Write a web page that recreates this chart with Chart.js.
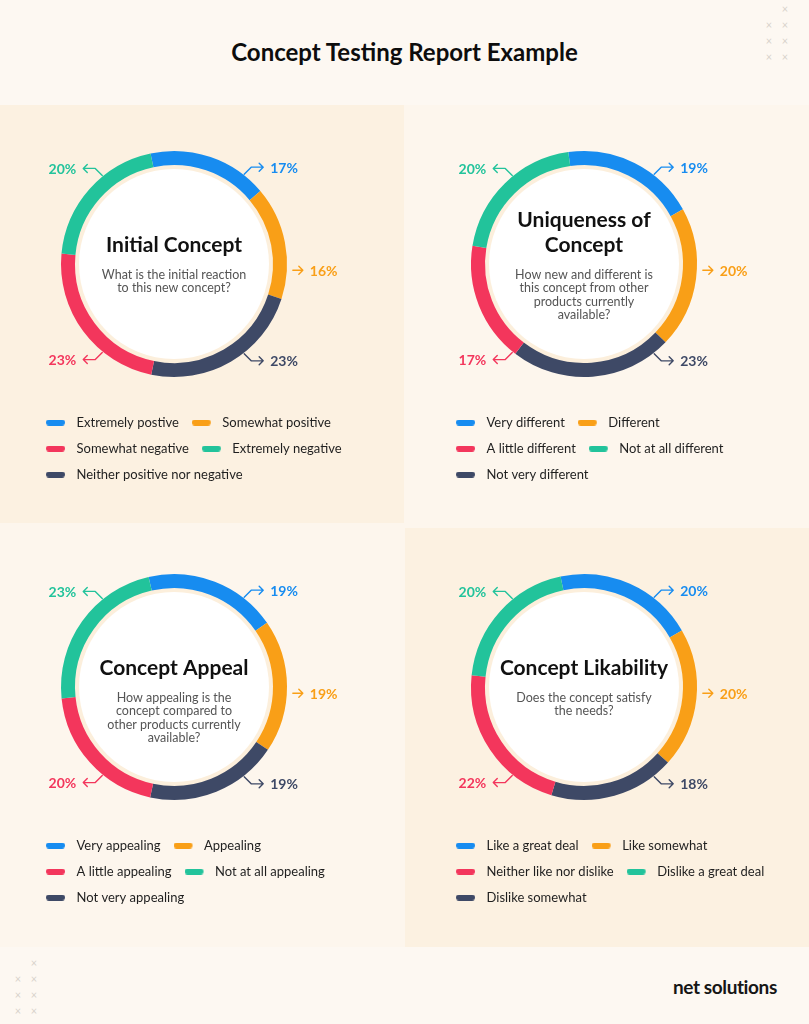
<!DOCTYPE html>
<html>
<head>
<meta charset="utf-8">
<title>Concept Testing Report Example</title>
<script src="https://cdn.jsdelivr.net/npm/chart.js@4.4.1/dist/chart.umd.min.js"></script>
<style>
  html, body { margin: 0; padding: 0; }
  body {
    width: 809px; height: 1024px; position: relative; overflow: hidden;
    background: #fdf8f2; font-family: Lato, sans-serif;
  }
  h1 {
    position: absolute; left: 0; top: 36px; width: 809px; margin: 0;
    text-align: center; font-size: 24px; line-height: 32px; font-weight: 700; color: #0d0d0d;
  }
  .panel { position: absolute; }
  .peach { background: #fcf1e1; }
  .light { background: #fdf6ed; }
  canvas { position: absolute; }
  .mark { position: absolute; width: 10px; margin-left: -5px; text-align: center; font-size: 11px; line-height: 10px; color: #d8d2cb; }
  .logo { position: absolute; left: 673px; top: 975px; font-size: 19px; font-weight: 700; color: #161616; letter-spacing: -0.4px; }
</style>
</head>
<body>
<h1>Concept Testing Report Example</h1>

<div class="panel peach" style="left:0;top:105px;width:404px;height:418px"></div>
<div class="panel light" style="left:404px;top:105px;width:405px;height:423px"></div>
<div class="panel light" style="left:0;top:523px;width:405px;height:424px"></div>
<div class="panel peach" style="left:405px;top:528px;width:404px;height:419px"></div>

<canvas id="initial" width="385" height="418" style="left:0;top:105px"></canvas>
<canvas id="unique" width="385" height="418" style="left:410px;top:105px"></canvas>
<canvas id="appeal" width="385" height="418" style="left:0;top:528px"></canvas>
<canvas id="likable" width="385" height="418" style="left:410px;top:528px"></canvas>

<span class="mark" style="left:785px;top:4px">×</span>
<span class="mark" style="left:769px;top:20px">×</span><span class="mark" style="left:785px;top:20px">×</span>
<span class="mark" style="left:769px;top:36px">×</span><span class="mark" style="left:785px;top:36px">×</span>
<span class="mark" style="left:769px;top:52px">×</span><span class="mark" style="left:785px;top:52px">×</span>

<span class="mark" style="left:34px;top:958px">×</span>
<span class="mark" style="left:18px;top:974px">×</span><span class="mark" style="left:34px;top:974px">×</span>
<span class="mark" style="left:18px;top:990px">×</span><span class="mark" style="left:34px;top:990px">×</span>
<span class="mark" style="left:18px;top:1006px">×</span><span class="mark" style="left:34px;top:1006px">×</span>

<div class="logo">net solutions</div>

<script>
// ring order, clockwise from the top: blue, orange, navy, red, green
const ringColors = ['#178cf0', '#f99f17', '#3e4966', '#f3365c', '#22c39b']
// legend lists them as blue, orange, red, green, navy
const legendOrder = [0, 1, 3, 4, 2]

const initialLabels = ['Extremely postive', 'Somewhat positive', 'Neither positive nor negative', 'Somewhat negative', 'Extremely negative']
const initialValues = [17, 16, 23, 23, 20]

const uniqueLabels = ['Very different', 'Different', 'Not very different', 'A little different', 'Not at all different']
const uniqueValues = [19, 20, 23, 17, 20]

const appealLabels = ['Very appealing', 'Appealing', 'Not very appealing', 'A little appealing', 'Not at all appealing']
const appealValues = [19, 19, 19, 20, 23]

const likeLabels = ['Like a great deal', 'Like somewhat', 'Dislike somewhat', 'Neither like nor dislike', 'Dislike a great deal']
const likeValues = [20, 20, 18, 22, 20]

// where the % callouts sit around the ring (degrees from the top)
const calloutAngles = [38, 93, 142, 219, 321]

Chart.defaults.font.family = 'Lato'

// rounded legend markers
function pill(color) {
  const c = document.createElement('canvas')
  c.width = 24
  c.height = 6
  const g = c.getContext('2d')
  g.fillStyle = color
  g.beginPath()
  g.roundRect(0, 0, 19, 6, 3)
  g.fill()
  return c
}
const pills = ringColors.map(pill)

// put the ring at a fixed spot, legend keeps its own place
const ringBox = {
  id: 'ringBox',
  afterLayout(chart, args, opts) {
    chart.chartArea = {
      left: opts.x - opts.r, right: opts.x + opts.r,
      top: opts.y - opts.r, bottom: opts.y + opts.r,
      width: opts.r * 2, height: opts.r * 2
    }
  }
}

const ringText = {
  id: 'ringText',
  beforeDatasetsDraw(chart) {
    const {x, y, innerRadius} = chart.getDatasetMeta(0).data[0]
    const ctx = chart.ctx
    ctx.save()
    ctx.fillStyle = '#fcefdc'
    ctx.beginPath()
    ctx.arc(x, y, innerRadius + 1, 0, Math.PI * 2)
    ctx.fill()
    ctx.fillStyle = '#ffffff'
    ctx.beginPath()
    ctx.arc(x, y, innerRadius - 4, 0, Math.PI * 2)
    ctx.fill()
    ctx.restore()
  },
  afterDatasetsDraw(chart, args, opts) {
    const {x, y, outerRadius} = chart.getDatasetMeta(0).data[0]
    const values = chart.data.datasets[0].data
    const ctx = chart.ctx
    ctx.save()
    ctx.textAlign = 'center'
    ctx.textBaseline = 'middle'

    ctx.fillStyle = '#111111'
    ctx.font = '700 21px Lato'
    const n = opts.title.length
    opts.title.forEach((line, k) => ctx.fillText(line, x, y - 19 - (n - 1 - k) * 25))

    ctx.fillStyle = '#555555'
    ctx.font = '12.5px Lato'
    opts.question.forEach((line, k) => ctx.fillText(line, x, y + 11 + k * 13.3))

    // callouts
    ctx.lineWidth = 1.4
    ctx.lineCap = 'round'
    ctx.lineJoin = 'round'
    ctx.font = '700 14px Lato'
    calloutAngles.forEach((deg, i) => {
      const a = deg * Math.PI / 180
      const sx = Math.sin(a) >= 0 ? 1 : -1
      const straight = Math.abs(Math.cos(a)) < 0.2
      const r = outerRadius + (straight ? 6 : 1)
      const x0 = x + r * Math.sin(a)
      const y0 = y - r * Math.cos(a)
      let bx = x0, by = y0
      if (!straight) {
        bx = x0 + 7 * sx
        by = y0 + (Math.cos(a) > 0 ? -7 : 7)
      }
      const tx = bx + (straight ? 10 : 12) * sx
      ctx.strokeStyle = ringColors[i]
      ctx.beginPath()
      ctx.moveTo(x0, y0)
      ctx.lineTo(bx, by)
      ctx.lineTo(tx, by)
      ctx.moveTo(tx - 4 * sx, by - 4)
      ctx.lineTo(tx, by)
      ctx.lineTo(tx - 4 * sx, by + 4)
      ctx.stroke()
      ctx.fillStyle = ringColors[i]
      ctx.textAlign = sx > 0 ? 'left' : 'right'
      ctx.fillText(values[i] + '%', tx + 7 * sx, by + 1)
    })
    ctx.restore()
  }
}

function makeRing(id, labels, values, rotation, title, question) {
  return new Chart(document.getElementById(id), {
    type: 'doughnut',
    data: {
      labels: labels,
      datasets: [{
        data: values,
        backgroundColor: ringColors,
        borderWidth: 0,
        hoverOffset: 0
      }]
    },
    options: {
      responsive: false,
      animation: false,
      rotation: rotation,
      cutout: '87.6%',
      layout: {padding: {left: 33, top: 20, bottom: 32}},
      plugins: {
        tooltip: {enabled: false},
        legend: {
          position: 'bottom',
          align: 'start',
          labels: {
            color: '#1f1f1f',
            font: {size: 13},
            padding: 13,
            usePointStyle: true,
            pointStyleWidth: 24,
            generateLabels(chart) {
              const items = Chart.overrides.doughnut.plugins.legend.labels.generateLabels(chart)
              return legendOrder.map(i => Object.assign(items[i], {pointStyle: pills[i], lineWidth: 0}))
            }
          }
        },
        ringBox: {x: 174, y: 159, r: 113},
        ringText: {title, question}
      }
    },
    plugins: [ringBox, ringText]
  })
}

makeRing('initial', initialLabels, initialValues, -12,
  ['Initial Concept'],
  ['What is the initial reaction', 'to this new concept?'])

makeRing('unique', uniqueLabels, uniqueValues, -8,
  ['Uniqueness of', 'Concept'],
  ['How new and different is', 'this concept from other', 'products currently', 'available?'])

makeRing('appeal', appealLabels, appealValues, -13,
  ['Concept Appeal'],
  ['How appealing is the', 'concept compared to', 'other products currently', 'available?'])

makeRing('likable', likeLabels, likeValues, -12,
  ['Concept Likability'],
  ['Does the concept satisfy', 'the needs?'])
</script>
</body>
</html>
